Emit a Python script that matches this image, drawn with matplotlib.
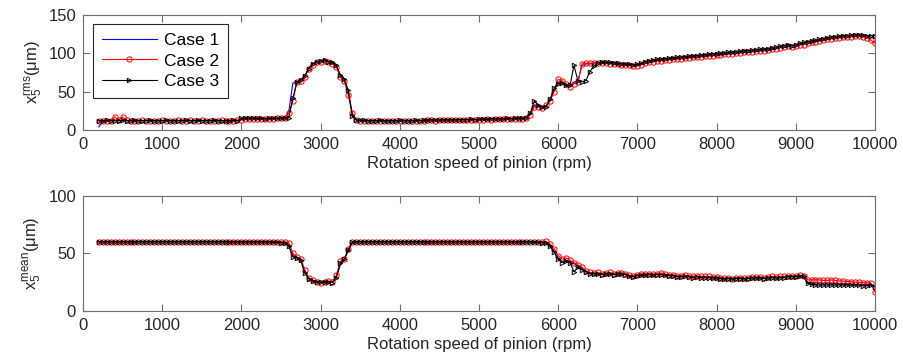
import numpy as np
import matplotlib
matplotlib.use("Agg")
import matplotlib.pyplot as plt

plt.rcParams['font.family'] = ['Liberation Sans', 'DejaVu Sans']
plt.rcParams['mathtext.fontset'] = 'custom'
plt.rcParams['mathtext.rm'] = 'Liberation Sans'
plt.rcParams['mathtext.it'] = 'Liberation Sans:italic'
plt.rcParams['font.size'] = 12

# rotation speed grid (rpm), 200 .. 10000 step 50
speed = np.arange(200, 10001, 50)

# RMS displacement x5 (um)
rms_case1 = [
    4, 11, 12, 12, 12.5, 12, 12, 12, 12.5, 12,
    12, 12, 12.5, 12, 12, 12.5, 12, 12, 12, 12.5,
    12, 12.5, 12, 12, 12.5, 12, 12, 12, 12.5, 12,
    12, 12, 12, 12.5, 12, 12, 14, 15, 15, 15,
    14.5, 14.5, 14.5, 14.5, 15, 15, 15, 15.5, 25, 61,
    63, 65, 70, 80, 86, 89, 90, 91, 89, 87,
    83, 70, 65, 50, 22, 13, 12.5, 12, 12, 12,
    12, 12, 12, 11.5, 12, 12, 12, 12, 12, 12,
    12, 12, 12.5, 12.5, 12.5, 12.5, 12.5, 13, 13, 13,
    13, 13, 13, 13.5, 13.5, 13.5, 13.5, 14, 14, 14,
    14, 14, 14, 14.5, 14.5, 14.5, 14.5, 15, 16, 22,
    32, 31, 29, 31, 40, 52, 62, 62, 58, 57,
    62, 64, 84, 86, 86, 87, 87, 87, 87, 87,
    86.5, 86, 85.5, 85, 84.5, 84, 84.5, 86, 88, 89,
    90, 91, 91.5, 92, 92.5, 93, 93.5, 94, 94.5, 95,
    95.5, 96, 96.5, 97, 97.5, 98, 98.5, 99, 99.5, 100,
    100.5, 101, 101.5, 102, 102.5, 103, 103.5, 104, 104.5, 105,
    106, 107, 108, 109, 110, 109, 110, 112, 113, 114,
    115, 116, 117, 118, 119, 120, 120.5, 121, 121.5, 122,
    122.5, 123, 123, 122.5, 122, 121, 120,
]
rms_case2 = [
    12, 12, 12, 12, 17, 13, 17, 12.5, 12, 12,
    12, 12.5, 12, 12, 12, 12, 12.5, 12, 12, 12,
    12.5, 12, 12, 12.5, 12, 12, 12.5, 12, 12, 12,
    12, 12.5, 12, 12, 12, 12.5, 13, 14, 14.5, 14.5,
    14, 14.5, 14, 14.5, 14.5, 15, 15, 15, 22, 38,
    62, 64, 69, 79, 85, 88, 89, 90, 89, 86,
    82, 69, 64, 45, 22, 13, 12, 12, 12, 11.5,
    12, 12, 11.5, 12, 12, 11.5, 12, 12, 12, 12,
    12, 12, 12, 12.5, 12.5, 12, 12.5, 12.5, 13, 12.5,
    13, 13, 13, 13, 13.5, 13, 13.5, 13.5, 14, 13.5,
    14, 14, 14, 14, 14.5, 14, 14.5, 14.5, 15, 20,
    30, 30, 28, 32, 38, 50, 66, 64, 60, 56,
    60, 62, 86, 87, 87, 87.5, 87.5, 87, 87, 86.5,
    86, 85.5, 85, 84.5, 84, 83, 83.5, 85, 87, 88,
    89, 90, 90.5, 91, 91.5, 92, 92.5, 93, 93.5, 94,
    94.5, 95, 95.5, 96, 96.5, 97, 97.5, 98, 98.5, 99,
    99.5, 100, 100.5, 101, 101.5, 102, 102.5, 103, 103.5, 104,
    105, 106, 107, 108, 109, 108, 109, 111, 111, 113,
    114, 115, 116, 117, 118, 119, 119.5, 120, 120.5, 121,
    121.5, 122, 122, 121.5, 120, 117, 113,
]
rms_case3 = [
    12, 12, 12.5, 12, 12, 12, 12.5, 12, 12, 12.5,
    12, 12, 12, 12.5, 12, 12, 12, 12.5, 12, 12,
    12, 12, 12.5, 12, 12, 12.5, 12, 12, 12, 12.5,
    12, 12, 12, 12, 12.5, 12, 15, 15.5, 15.5, 15,
    15, 15, 14.5, 15, 15, 15, 15.5, 15.5, 16, 41,
    62, 65, 70, 80, 86, 89, 90, 91, 89, 88,
    84, 72, 66, 52, 18, 13, 12.5, 12.5, 12, 12,
    12, 12.5, 12, 12, 12, 12, 12.5, 12, 12, 12,
    12.5, 12, 12.5, 12.5, 13, 12.5, 13, 13, 13, 13,
    13, 13.5, 13.5, 13.5, 14, 13.5, 14, 14, 14, 14.5,
    14.5, 14.5, 14.5, 15, 14.5, 15, 15, 15.5, 16, 22,
    38, 32, 30, 30, 40, 55, 60, 61, 58, 58,
    84, 64, 63, 64, 76, 83, 87.5, 88, 88, 88,
    87.5, 87, 86.5, 86, 85.5, 85, 85.5, 87, 89, 90,
    91, 92, 92.5, 93, 93.5, 94, 94.5, 95, 95.5, 96,
    96.5, 97, 97.5, 98, 98.5, 99, 99.5, 100, 100.5, 101,
    101.5, 102, 102.5, 103, 103.5, 104, 104.5, 105, 105.5, 106,
    107, 108, 109, 110, 111, 110, 111, 113, 114, 115,
    116, 117, 118, 119, 120, 121, 121.5, 122, 122.5, 123,
    123.5, 124, 124, 123.5, 123, 123, 123,
]

# mean displacement x5 (um)
mean_case1 = [
    60, 60, 60, 60, 60, 60, 60, 60, 60, 60,
    60, 60, 60, 60, 60, 60, 60, 60, 60, 60,
    60, 60, 60, 60, 60, 60, 60, 60, 60, 60,
    60, 60, 60, 60, 60, 60, 60, 60, 60, 60,
    60, 60, 60, 60, 60, 60, 59.5, 59.5, 57, 48,
    46.5, 44, 34, 28, 26, 25, 25, 25.5, 25.5, 25,
    30, 40, 45, 52, 59.5, 60, 60, 60, 60, 60,
    60, 60, 60, 60, 60, 60, 60, 60, 60, 60,
    60, 60, 60, 60, 60, 60, 60, 60, 60, 60,
    60, 60, 60, 60, 60, 60, 60, 60, 60, 60,
    60, 60, 60, 60, 60, 60, 60, 60, 60, 60,
    60, 60, 60, 60, 57, 52, 46, 43, 44, 43,
    41, 39, 37, 34, 33, 32.5, 32.5, 32, 32.5, 32.5,
    32, 32.5, 32.5, 32, 30.5, 30, 31, 31.5, 31.5, 32,
    31.5, 32, 32, 31.5, 31, 31, 30, 30, 30.5, 30,
    29.5, 30, 29.5, 29.5, 29.5, 29, 29, 28.5, 28, 28.5,
    28, 28.5, 28.5, 28, 28.5, 29, 29, 29, 28.5, 29,
    29.5, 29, 29.5, 29.5, 30, 30, 30, 30.5, 30, 25,
    24.5, 24.5, 24.5, 24, 24.5, 24, 24, 24, 23.5, 23.5,
    23.5, 23, 23, 23, 23, 22.5, 21,
]
mean_case2 = [
    60, 60, 60, 60, 60, 60, 60, 60, 60, 60,
    60, 60, 60, 60, 60, 60, 60, 60, 60, 60,
    60, 60, 60, 60, 60, 60, 60, 60, 60, 60,
    60, 60, 60, 60, 60, 60, 60, 60, 60, 60,
    60, 60, 60, 60, 60, 60, 60, 60, 59, 50,
    47, 45, 36, 29, 27, 25, 24.5, 25, 26, 25,
    31, 43, 45, 54, 60, 60, 60, 60, 60, 60,
    60, 60, 60, 60, 60, 60, 60, 60, 60, 60,
    60, 60, 60, 60, 60, 60, 60, 60, 60, 60,
    60, 60, 60, 60, 60, 60, 60, 60, 60, 60,
    60, 60, 60, 60, 60, 60, 60, 60, 60, 60,
    60, 60, 60, 60.5, 58, 54, 48, 45, 46, 44,
    42, 40, 38, 35, 33.5, 33, 33.5, 32.5, 33, 33.5,
    32.5, 33, 33, 32.5, 31, 30.5, 31.5, 32, 32.5, 32.5,
    32, 32.5, 33, 32, 31.5, 31.5, 30.5, 30.5, 31, 30.5,
    30, 30.5, 30, 30, 30, 29.5, 29.5, 29, 28.5, 29,
    28, 29, 29, 28.5, 29, 29.5, 29.5, 29.5, 29, 29.5,
    30, 29.5, 30, 30, 30.5, 30.5, 30.5, 31, 30.5, 27,
    27, 27, 27, 26.5, 26.5, 27, 26.5, 26, 26, 25.5,
    25.5, 25, 25, 24.5, 24.5, 24, 16.5,
]
mean_case3 = [
    60, 60, 60, 60, 60, 60, 60, 60, 60, 60,
    60, 60, 60, 60, 60, 60, 60, 60, 60, 60,
    60, 60, 60, 60, 60, 60, 60, 60, 60, 60,
    60, 60, 60, 60, 60, 60, 60, 60, 60, 60,
    60, 60, 60, 60, 59.5, 59.5, 59, 59, 56, 47,
    46, 44, 33, 28, 26, 25, 25, 25, 25, 24.5,
    29, 42, 45, 53, 59.5, 60, 60, 60, 60, 60,
    60, 60, 60, 60, 60, 60, 60, 60, 60, 60,
    60, 60, 60, 60, 60, 60, 60, 60, 60, 60,
    60, 60, 60, 60, 60, 60, 60, 60, 60, 60,
    60, 60, 60, 60, 60, 60, 60, 60, 60, 60,
    59.5, 59.5, 59, 59, 56, 51, 45, 42, 43, 42,
    34, 38, 36, 34, 32.5, 32, 32, 31.5, 32, 32,
    31.5, 32, 32, 31.5, 30, 29.5, 30.5, 31, 31, 31.5,
    31, 31.5, 31.5, 31, 30.5, 30.5, 29.5, 29.5, 30, 29.5,
    29, 29.5, 29, 29, 29, 28.5, 28.5, 28, 27.5, 28,
    27.5, 28, 28, 27.5, 28, 28.5, 28.5, 28.5, 28, 28.5,
    29, 28.5, 29, 29, 29.5, 29.5, 29.5, 30, 30, 24,
    23, 22.5, 22.5, 22.5, 22.5, 22.5, 22.5, 22.5, 22.5, 22.5,
    22.5, 22.5, 22.5, 22, 22, 22.5, 21,
]

case_labels = ['Case 1', 'Case 2', 'Case 3']
text_col = '#262626'
axis_col = '#6e6e6e'

fig = plt.figure(figsize=(9.04, 3.62), dpi=100)
ax1 = fig.add_axes([0.0918, 0.641, 0.876, 0.318])
ax2 = fig.add_axes([0.0918, 0.141, 0.876, 0.318])


def draw(ax, c1, c2, c3):
    ax.plot(speed, c1, color='blue', lw=0.8, label=case_labels[0])
    ax.plot(speed, c2, color='red', lw=0.8, marker='o', ms=3.8,
            mfc='none', mew=0.7, label=case_labels[1])
    ax.plot(speed, c3, color='black', lw=0.8, marker='>', ms=3.2,
            mfc='none', mew=0.7, label=case_labels[2])
    ax.set_xlim(0, 10000)
    ax.set_xticks(np.arange(0, 10001, 1000))
    ax.tick_params(direction='in', top=True, right=True, length=5,
                   width=0.8, color=axis_col, labelcolor=text_col,
                   labelsize=12, pad=5)
    for s in ax.spines.values():
        s.set_color(axis_col)
        s.set_linewidth(0.8)
    ax.set_xlabel('Rotation speed of pinion (rpm)', color=text_col, labelpad=3)


draw(ax1, rms_case1, rms_case2, rms_case3)
ax1.set_ylim(0, 150)
ax1.set_yticks([0, 50, 100, 150])
ax1.set_ylabel(r'x$_5^{\mathrm{rms}}$(μm)', color=text_col, labelpad=3)
leg = ax1.legend(loc='upper left', bbox_to_anchor=(0.0126, 0.922),
                 borderaxespad=0, numpoints=1, handlelength=3.2,
                 fancybox=False, edgecolor='#262626', framealpha=1,
                 labelspacing=0.33, borderpad=0.5,
                 handletextpad=0.4, fontsize=12.5)
leg.get_frame().set_linewidth(0.8)

draw(ax2, mean_case1, mean_case2, mean_case3)
ax2.set_ylim(0, 100)
ax2.set_yticks([0, 50, 100])
ax2.set_ylabel(r'x$_5^{\mathrm{mean}}$(μm)', color=text_col, labelpad=3)

fig.savefig('out.png', dpi=100)
